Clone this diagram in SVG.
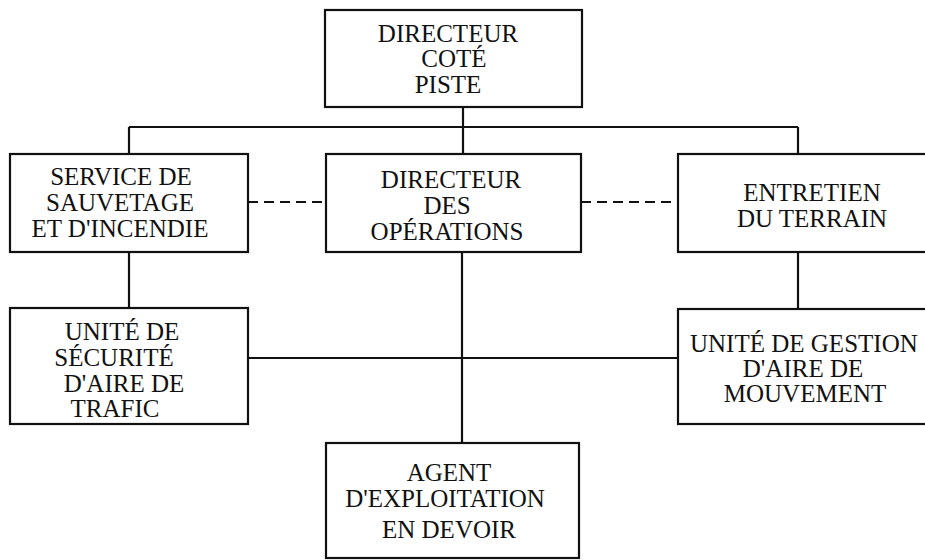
<svg xmlns="http://www.w3.org/2000/svg" width="925" height="560" viewBox="0 0 925 560">
<style>
.box{fill:#fff;stroke:#111;stroke-width:2.2}
.ln{fill:none;stroke:#111;stroke-width:2.2}
.dash{fill:none;stroke:#111;stroke-width:2.2;stroke-dasharray:10 6}
text{font-family:"Liberation Serif","Times New Roman",serif;font-size:25px;fill:#111;text-anchor:middle}
</style>
<rect width="925" height="560" fill="#fff"/>
<g id="connectors">
<path class="ln" d="M463 107V154M129 127H798M129 127V154M798 127V154M129 252V308M798 252V309M462 252V443M248 358H678"/>
<path class="dash" d="M248 202H326M581 202H678"/>
</g>
<g id="n-directeur-cote-piste">
<rect class="box" x="325" y="10" width="257" height="97"/>
<text x="448" y="42">DIRECTEUR</text>
<text x="454" y="67">COTÉ</text>
<text x="448" y="93">PISTE</text>
</g>
<g id="n-service-sauvetage">
<rect class="box" x="10" y="154" width="238" height="98"/>
<text x="121" y="185">SERVICE DE</text>
<text x="120" y="211">SAUVETAGE</text>
<text x="120" y="237">ET D'INCENDIE</text>
</g>
<g id="n-directeur-operations">
<rect class="box" x="326" y="154" width="255" height="98"/>
<text x="451" y="188">DIRECTEUR</text>
<text x="447" y="214">DES</text>
<text x="447" y="240">OPÉRATIONS</text>
</g>
<g id="n-entretien-terrain">
<rect class="box" x="678" y="154" width="260" height="98"/>
<text x="812" y="201">ENTRETIEN</text>
<text x="812" y="227">DU TERRAIN</text>
</g>
<g id="n-unite-securite">
<rect class="box" x="10" y="308" width="238" height="116"/>
<text x="122" y="340">UNITÉ DE</text>
<text x="114" y="366">SÉCURITÉ</text>
<text x="124" y="392">D'AIRE DE</text>
<text x="115" y="417">TRAFIC</text>
</g>
<g id="n-unite-gestion">
<rect class="box" x="678" y="309" width="260" height="115"/>
<text x="690" y="352" style="text-anchor:start">UNITÉ DE GESTION</text>
<text x="803" y="377">D'AIRE DE</text>
<text x="805" y="402">MOUVEMENT</text>
</g>
<g id="n-agent-exploitation">
<rect class="box" x="326" y="443" width="253" height="115"/>
<text x="449" y="481">AGENT</text>
<text x="445" y="507">D'EXPLOITATION</text>
<text x="449" y="538">EN DEVOIR</text>
</g>
</svg>
